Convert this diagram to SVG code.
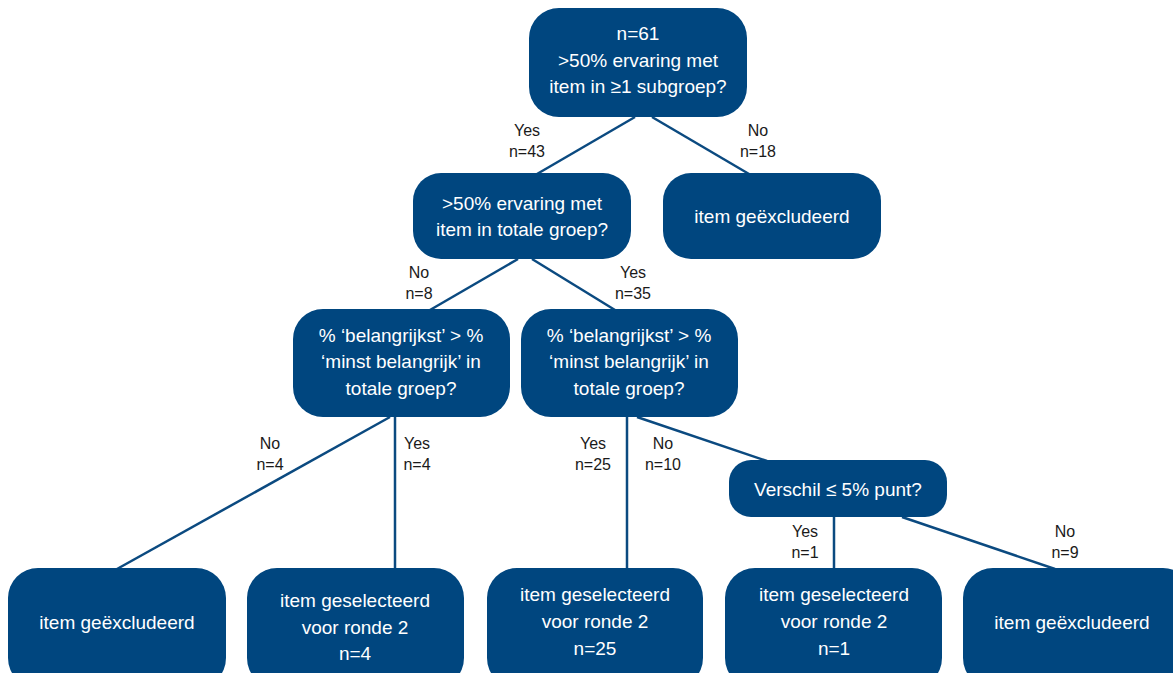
<svg xmlns="http://www.w3.org/2000/svg" width="1173" height="673" viewBox="0 0 1173 673">
<style>
.n{fill:#00467f}
.t{font-family:"Liberation Sans",Arial,sans-serif;font-size:19px;fill:#ffffff;text-anchor:middle}
.l{font-family:"Liberation Sans",Arial,sans-serif;font-size:16px;fill:#1a1a1a;text-anchor:middle}
.c{stroke:#0b4a80;stroke-width:2.5;fill:none}
</style>
<rect width="1173" height="673" fill="#ffffff"/>
<g id="connectors">
<line class="c" x1="635" y1="117" x2="537" y2="174"/>
<line class="c" x1="652" y1="117" x2="749" y2="174"/>
<line class="c" x1="518" y1="259" x2="430" y2="310"/>
<line class="c" x1="532" y1="259" x2="615" y2="310"/>
<line class="c" x1="390" y1="417" x2="117" y2="569"/>
<line class="c" x1="395" y1="417" x2="395" y2="569"/>
<line class="c" x1="627" y1="417" x2="627" y2="569"/>
<line class="c" x1="637" y1="417" x2="767" y2="461"/>
<line class="c" x1="834" y1="517" x2="834" y2="569"/>
<line class="c" x1="902" y1="517" x2="1055" y2="569"/>
<text class="l" x="527" y="136">Yes</text><text class="l" x="527" y="157">n=43</text>
<text class="l" x="758" y="136">No</text><text class="l" x="758" y="157">n=18</text>
<text class="l" x="419" y="278">No</text><text class="l" x="419" y="299">n=8</text>
<text class="l" x="633" y="278">Yes</text><text class="l" x="633" y="299">n=35</text>
<text class="l" x="270" y="449">No</text><text class="l" x="270" y="470">n=4</text>
<text class="l" x="417" y="449">Yes</text><text class="l" x="417" y="470">n=4</text>
<text class="l" x="593" y="449">Yes</text><text class="l" x="593" y="470">n=25</text>
<text class="l" x="663" y="449">No</text><text class="l" x="663" y="470">n=10</text>
<text class="l" x="805" y="537">Yes</text><text class="l" x="805" y="558">n=1</text>
<text class="l" x="1065" y="537">No</text><text class="l" x="1065" y="558">n=9</text>
</g>
<g id="n-root">
<rect class="n" x="529" y="8" width="218" height="109" rx="30"/>
<text class="t" x="638" y="40">n=61</text>
<text class="t" x="638" y="67">&gt;50% ervaring met</text>
<text class="t" x="638" y="93">item in ≥1 subgroep?</text>
</g>
<g id="n-totaal">
<rect class="n" x="413" y="173" width="218" height="86" rx="28"/>
<text class="t" x="522" y="210">&gt;50% ervaring met</text>
<text class="t" x="522" y="236">item in totale groep?</text>
</g>
<g id="n-excl1">
<rect class="n" x="663" y="173" width="218" height="86" rx="28"/>
<text class="t" x="772" y="223">item geëxcludeerd</text>
</g>
<g id="n-bel-left">
<rect class="n" x="293" y="309" width="217" height="108" rx="30"/>
<text class="t" x="401" y="342">% ‘belangrijkst’ &gt; %</text>
<text class="t" x="401" y="368">‘minst belangrijk’ in</text>
<text class="t" x="401" y="395">totale groep?</text>
</g>
<g id="n-bel-right">
<rect class="n" x="521" y="309" width="217" height="108" rx="30"/>
<text class="t" x="629" y="342">% ‘belangrijkst’ &gt; %</text>
<text class="t" x="629" y="368">‘minst belangrijk’ in</text>
<text class="t" x="629" y="395">totale groep?</text>
</g>
<g id="n-verschil">
<rect class="n" x="729" y="460" width="218" height="57" rx="22"/>
<text class="t" x="838" y="496">Verschil ≤ 5% punt?</text>
</g>
<g id="n-excl2">
<rect class="n" x="8" y="568" width="218" height="120" rx="30"/>
<text class="t" x="117" y="629">item geëxcludeerd</text>
</g>
<g id="n-sel4">
<rect class="n" x="247" y="568" width="217" height="120" rx="30"/>
<text class="t" x="355" y="607">item geselecteerd</text>
<text class="t" x="355" y="634">voor ronde 2</text>
<text class="t" x="355" y="660">n=4</text>
</g>
<g id="n-sel25">
<rect class="n" x="487" y="568" width="216" height="120" rx="30"/>
<text class="t" x="595" y="601">item geselecteerd</text>
<text class="t" x="595" y="628">voor ronde 2</text>
<text class="t" x="595" y="655">n=25</text>
</g>
<g id="n-sel1">
<rect class="n" x="725" y="568" width="217" height="120" rx="30"/>
<text class="t" x="834" y="601">item geselecteerd</text>
<text class="t" x="834" y="628">voor ronde 2</text>
<text class="t" x="834" y="655">n=1</text>
</g>
<g id="n-excl3">
<rect class="n" x="963" y="568" width="230" height="120" rx="30"/>
<text class="t" x="1072" y="629">item geëxcludeerd</text>
</g>
</svg>
